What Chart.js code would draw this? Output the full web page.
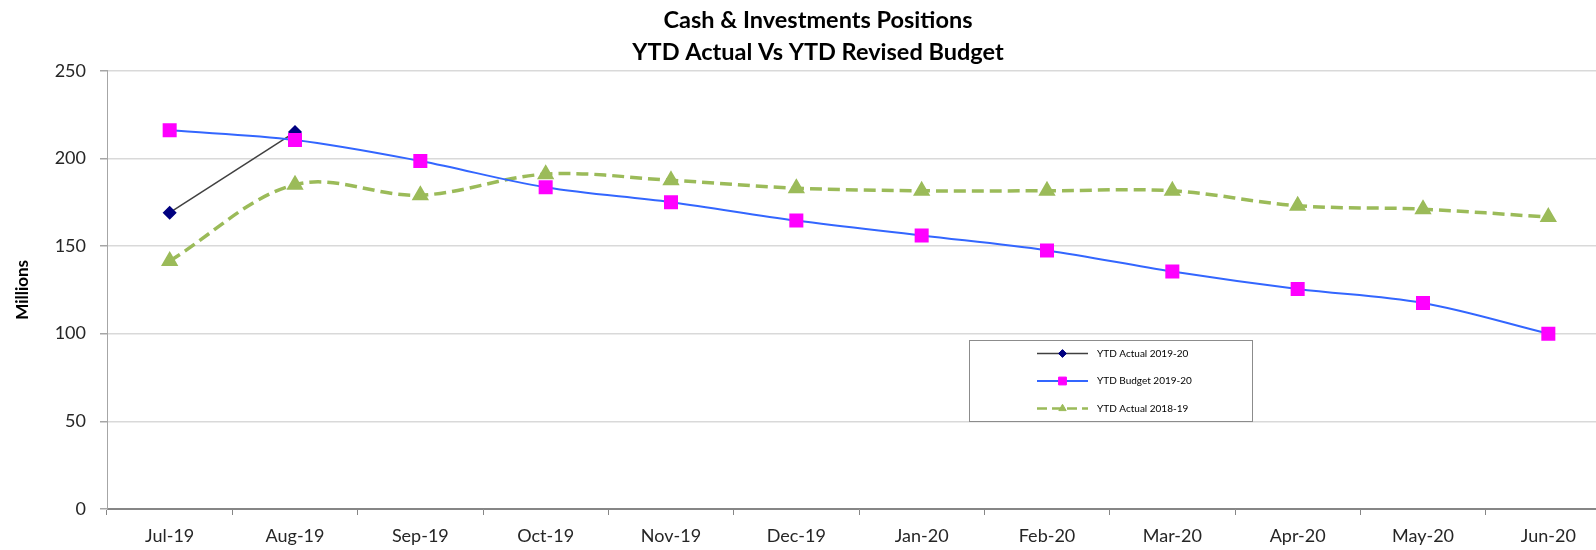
<!DOCTYPE html>
<html>
<head>
<meta charset="utf-8">
<script src="https://cdn.jsdelivr.net/npm/chart.js@4.4.0/dist/chart.umd.min.js"></script>
<style>
  html, body { margin: 0; padding: 0; background: #fff; overflow: hidden; }
</style>
</head>
<body>
<canvas id="chart" width="1640" height="550"></canvas>
<script>
// Data (values in millions)
const months = ['Jul-19', 'Aug-19', 'Sep-19', 'Oct-19', 'Nov-19', 'Dec-19',
                'Jan-20', 'Feb-20', 'Mar-20', 'Apr-20', 'May-20', 'Jun-20'];
const actual1920 = [169, 215];
const budget1920 = [216, 210.5, 198.5, 183.5, 175, 164.5, 156, 147.5, 135.5, 125.5, 117.5, 100];
const actual1819 = [141.5, 185, 179, 191, 187.5, 183, 181.5, 181.5, 181.5, 173, 171, 166.5];
const titleLines = ['Cash & Investments Positions', 'YTD Actual Vs YTD Revised Budget'];
const yMax = 250;
const yStep = 50;

const FONT = 'Lato, "Open Sans", sans-serif';

// Legend drawn as a framed box inside the plot, like the original
const boxLegend = {
  id: 'boxLegend',
  afterDraw(chart) {
    const ctx = chart.ctx;
    const bx = 969, by = 340, bw = 283, bh = 81;
    ctx.save();
    ctx.fillStyle = '#ffffff';
    ctx.fillRect(bx, by, bw, bh);
    ctx.strokeStyle = '#8c8c8c';
    ctx.lineWidth = 1;
    ctx.strokeRect(bx + 0.5, by + 0.5, bw, bh);
    chart.data.datasets.forEach((ds, i) => {
      const y = by + 13.5 + i * 27.5;
      const x0 = bx + 68, x1 = bx + 119;
      ctx.save();
      ctx.strokeStyle = ds.borderColor;
      ctx.lineWidth = Math.min(ds.borderWidth, 2.5);
      ctx.setLineDash(ds.borderDash ? [10, 5] : []);
      ctx.beginPath();
      ctx.moveTo(x0, y);
      ctx.lineTo(x1, y);
      ctx.stroke();
      ctx.restore();
      ctx.save();
      ctx.fillStyle = ds.pointBackgroundColor;
      ctx.strokeStyle = ds.pointBorderColor;
      ctx.lineWidth = 1;
      Chart.helpers.drawPoint(ctx, {
        pointStyle: ds.pointStyle,
        radius: ds.pointRadius * 0.65,
        rotation: 0,
        borderWidth: 1
      }, (x0 + x1) / 2, y);
      ctx.restore();
      ctx.fillStyle = '#000';
      ctx.font = '10px ' + FONT;
      ctx.textBaseline = 'middle';
      ctx.textAlign = 'left';
      ctx.fillText(ds.label, bx + 128, y);
    });
    ctx.restore();
  }
};

new Chart(document.getElementById('chart'), {
  type: 'line',
  data: {
    labels: months,
    datasets: [
      {
        label: 'YTD Actual 2019-20',
        data: actual1920,
        borderColor: '#404040',
        borderWidth: 1.5,
        pointStyle: 'rectRot',
        pointRadius: 6,
        pointBackgroundColor: '#000080',
        pointBorderColor: '#000080',
        tension: 0,
        order: 1
      },
      {
        label: 'YTD Budget 2019-20',
        data: budget1920,
        borderColor: '#3366ff',
        borderWidth: 2,
        pointStyle: 'rect',
        pointRadius: 8.5,
        pointBackgroundColor: '#ff00ff',
        pointBorderColor: '#ff00ff',
        tension: 0.35,
        order: 0
      },
      {
        label: 'YTD Actual 2018-19',
        data: actual1819,
        borderColor: '#9bbb59',
        borderWidth: 3.5,
        borderDash: [12, 6],
        pointStyle: 'triangle',
        pointRadius: 6.5,
        pointBackgroundColor: '#9bbb59',
        pointBorderColor: '#9bbb59',
        tension: 0.35,
        order: 2
      }
    ]
  },
  options: {
    responsive: false,
    animation: false,
    layout: { padding: { left: 25, right: 29, top: 0, bottom: 0 } },
    plugins: {
      legend: { display: false },
      tooltip: { enabled: false },
      title: {
        display: true,
        text: titleLines,
        color: '#000',
        font: { family: FONT, size: 23.5, weight: 'bold', lineHeight: 32 / 23.5 },
        padding: { top: 4, bottom: 2.7 }
      }
    },
    scales: {
      x: {
        type: 'category',
        offset: true,
        afterFit: (s) => { s.height = 41; },
        grid: {
          offset: true,
          drawOnChartArea: false,
          drawTicks: true,
          tickLength: 6,
          tickColor: '#868686'
        },
        border: { color: '#868686', width: 1 },
        ticks: {
          color: '#262626',
          padding: 10.6,
          font: { family: FONT, size: 18 },
          maxRotation: 0,
          autoSkip: false
        }
      },
      y: {
        min: 0,
        max: yMax,
        afterFit: (s) => { s.width = 82; },
        grid: {
          color: (c) => c.tick && c.tick.value === 0 ? '#868686' : '#d9d9d9',
          tickColor: '#a6a6a6',
          tickLength: 7,
          lineWidth: 1.5
        },
        border: { color: '#a6a6a6', width: 1 },
        ticks: {
          stepSize: yStep,
          color: '#262626',
          padding: 14,
          font: { family: FONT, size: 18 }
        },
        title: {
          display: true,
          text: 'Millions',
          color: '#000',
          font: { family: FONT, size: 17, weight: 'bold' },
          padding: { top: -12.7, bottom: 0 }
        }
      }
    }
  },
  plugins: [boxLegend]
});
</script>
</body>
</html>
